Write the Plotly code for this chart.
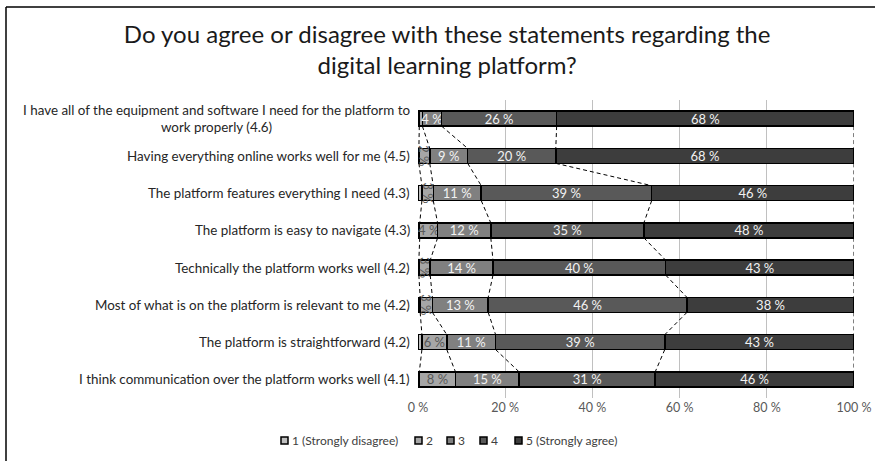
import plotly.graph_objects as go

# survey statements, top to bottom
statements = [
    "I have all of the equipment and software I need for the platform to<br>work properly (4.6)",
    "Having everything online works well for me (4.5)",
    "The platform features everything I need (4.3)",
    "The platform is easy to navigate (4.3)",
    "Technically the platform works well (4.2)",
    "Most of what is on the platform is relevant to me (4.2)",
    "The platform is straightforward (4.2)",
    "I think communication over the platform works well (4.1)",
]

series_names = ["1 (Strongly disagree)", "2", "3", "4", "5 (Strongly agree)"]

# share of answers in %, one list per answer option
s1 = [0.3, 0.2, 0.9, 0.4, 0.2, 0.5, 0.9, 0.3]
s2 = [0.7, 2.5, 2.6, 4.1, 2.6, 2.8, 5.7, 8.3]
s3 = [4.4, 8.7, 11.0, 12.2, 14.4, 12.8, 11.2, 14.6]
s4 = [26.4, 20.2, 39.1, 35.1, 39.6, 45.6, 38.8, 31.2]
s5 = [68.2, 68.4, 46.4, 48.2, 43.2, 38.3, 43.4, 45.6]

x_ticks = [0, 20, 40, 60, 80, 100]
x_ticklabels = ["0 %", "20 %", "40 %", "60 %", "80 %", "100 %"]

colors = ["#bfbfbf", "#a6a6a6", "#808080", "#595959", "#3d3d3d"]
text_colors = ["#404040", "#595959", "#f2f2f2", "#f2f2f2", "#f2f2f2"]
FONT = "Lato"
BAR_W = 0.4

# plot area in pixels, used for placing the legend and border
L, R, T, B = 418, 854, 100, 398


def px_x(px):
    return (px - L) / (R - L)


def px_y(py):
    return (B - py) / (B - T)


series = [s1, s2, s3, s4, s5]
rows = list(range(len(statements)))

fig = go.Figure()

for k, (name, vals) in enumerate(zip(series_names, series)):
    labels = [f"{v:.0f} %" if v >= 2 else "" for v in vals]
    fig.add_trace(go.Bar(
        y=rows, x=vals, name=name, orientation="h", width=BAR_W,
        marker=dict(color=colors[k], line=dict(color="#000000", width=1.5)),
        text=labels, textposition="inside", insidetextanchor="middle",
        textfont=dict(family=FONT, size=13, color=text_colors[k]),
        hoverinfo="skip", showlegend=False,
    ))

# dashed series lines between neighbouring bars
cum = [0.0] * len(rows)
for vals in series:
    cum = [c + v for c, v in zip(cum, vals)]
    xs, ys = [], []
    for i in rows[:-1]:
        xs += [cum[i], cum[i + 1], None]
        ys += [i + BAR_W / 2, i + 1 - BAR_W / 2, None]
    fig.add_trace(go.Scatter(
        x=xs, y=ys, mode="lines", showlegend=False, hoverinfo="skip",
        line=dict(color="#000000", width=1, dash="4px,3px"),
    ))

# category labels as annotations so that wrapped lines are centred
for i, label in enumerate(statements):
    fig.add_annotation(
        x=0, xref="paper", y=i, yref="y", text=label, showarrow=False,
        xanchor="right", xshift=-6, align="center",
        font=dict(family=FONT, size=13.4, color="#262626"),
    )

# compact legend: small boxed squares like the original
legend_px = [281, 415, 447, 480, 515]
for k, name in enumerate(series_names):
    x0 = legend_px[k]
    fig.add_shape(type="rect", xref="paper", yref="paper",
                  x0=px_x(x0), x1=px_x(x0 + 7), y0=px_y(444), y1=px_y(437),
                  fillcolor=colors[k], line=dict(color="#000000", width=1.5))
    fig.add_annotation(
        x=px_x(x0 + 9), xref="paper", y=px_y(440.5), yref="paper",
        text=name, showarrow=False, xanchor="left", yanchor="middle",
        font=dict(family=FONT, size=12, color="#404040"),
    )

# chart area border, only left and top edges are visible in the crop
border = dict(color="#000000", width=1.5)
fig.add_shape(type="line", xref="paper", yref="paper",
              x0=px_x(6), x1=px_x(6), y0=px_y(470), y1=px_y(7), line=border)
fig.add_shape(type="line", xref="paper", yref="paper",
              x0=px_x(6), x1=px_x(880), y0=px_y(7), y1=px_y(7), line=border)

fig.update_layout(
    width=875, height=461,
    barmode="stack",
    plot_bgcolor="white", paper_bgcolor="white",
    margin=dict(l=L, r=875 - R, t=T, b=461 - B),
    font=dict(family=FONT, color="#595959"),
    title=dict(
        text="Do you agree or disagree with these statements regarding the<br>digital learning platform?",
        x=0.511, xanchor="center", y=0.907, yanchor="middle",
        font=dict(family=FONT, size=24, color="#1a1a1a"),
    ),
    uniformtext=dict(minsize=13, mode="show"),
    showlegend=False,
)

fig.update_xaxes(
    range=[0, 100], tickvals=x_ticks, ticktext=x_ticklabels,
    showgrid=True, gridcolor="#c0c0c0", gridwidth=1,
    zeroline=False, showline=False, ticks="", automargin=False,
    tickfont=dict(family=FONT, size=12.5, color="#595959"),
)
fig.update_yaxes(
    range=[len(rows) - 0.5, -0.5], showticklabels=False, automargin=False,
    showgrid=False, zeroline=False, showline=False, ticks="",
)

fig.write_html("out.html", config={"displayModeBar": False},
               post_script="document.body.style.margin='0';"
                           "document.body.style.overflow='hidden';")
